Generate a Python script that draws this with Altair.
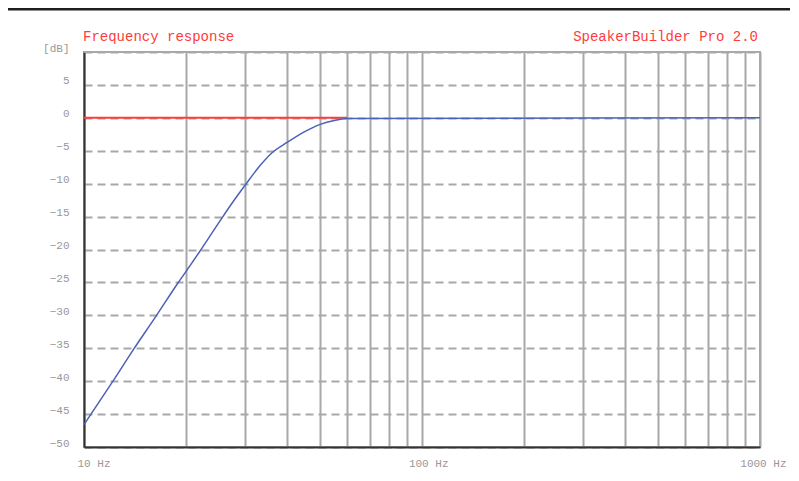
import altair as alt
import pandas as pd

# Blue: system response
blue_f = [10, 12.25, 14.0, 16.3, 18.9, 20, 22, 25, 28, 30, 33, 36, 40, 45, 50, 55, 60, 1000]
blue_db = [-46.6, -39.8, -35.2, -30.2, -25.2, -23.4, -20.3, -16.0, -12.3, -10.2, -7.4, -5.3, -3.7, -2.1, -1.0, -0.4, -0.1, 0]

# Red: target line
red_f = [10, 60]
red_db = [0, 0]

grid_x = [10, 20, 30, 40, 50, 60, 70, 80, 90, 100, 200, 300, 400, 500, 600, 700, 800, 900, 1000]
grid_y = list(range(-50, 11, 5))

title_left = "Frequency response"
title_right = "SpeakerBuilder Pro 2.0"

FONT = "Liberation Mono"
GRAY = "#a8a8a8"
LABEL = "#989898"
RED = "#ff3b3b"
BLUE = "#4a62b8"

blue = pd.DataFrame({"f": blue_f, "db": blue_db})
red = pd.DataFrame({"f": red_f, "db": red_db})

x_scale = alt.Scale(type="log", domain=[10, 1000], nice=False)
y_scale = alt.Scale(domain=[-50, 10], nice=False)

x_axis = alt.Axis(
    values=grid_x, grid=True, gridColor=GRAY, gridWidth=2, ticks=False,
    domainColor="#333333", domainWidth=2, title=None,
    labelExpr="(datum.value==10||datum.value==100||datum.value==1000) ? datum.value + ' Hz' : ''",
    labelAlign="right", labelOffset=26, labelPadding=10, labelBaseline="top",
    labelFlush=False, labelOverlap=False, labelBound=False,
    labelFont=FONT, labelFontSize=11, labelColor=LABEL,
)
y_axis = alt.Axis(
    values=grid_y, grid=True, gridColor=GRAY, gridWidth=2, gridDash=[8, 5], ticks=False,
    domainColor="#333333", domainWidth=2, title=None,
    labelExpr="datum.value==10 ? '[dB]' : datum.label",
    labelPadding=15, labelOffset=-4, labelFlush=False, labelOverlap=False,
    labelFont=FONT, labelFontSize=11, labelColor=LABEL,
)

red_line = alt.Chart(red).mark_line(color=RED, strokeWidth=2).encode(
    x=alt.X("f:Q", scale=x_scale, axis=x_axis),
    y=alt.Y("db:Q", scale=y_scale, axis=y_axis),
)
blue_line = alt.Chart(blue).mark_line(color=BLUE, strokeWidth=1.5, interpolate="monotone").encode(
    x=alt.X("f:Q", scale=x_scale, axis=x_axis),
    y=alt.Y("db:Q", scale=y_scale, axis=y_axis),
)

top_border = alt.Chart(pd.DataFrame({"a": [0]})).mark_rule(color=GRAY, strokeWidth=2).encode(
    x=alt.value(0), x2=alt.value(676), y=alt.value(0)
)
frame_top = alt.Chart(pd.DataFrame({"a": [0]})).mark_rule(color="#1e1e1e", strokeWidth=3).encode(
    x=alt.value(-80), x2=alt.value(730), y=alt.value(-43)
)

t_left = alt.Chart(pd.DataFrame({"t": [title_left]})).mark_text(
    align="left", baseline="middle", font=FONT, fontSize=14, color=RED
).encode(x=alt.value(-1), y=alt.value(-15), text="t:N")
t_right = alt.Chart(pd.DataFrame({"t": [title_right]})).mark_text(
    align="right", baseline="middle", font=FONT, fontSize=14, color=RED
).encode(x=alt.value(674), y=alt.value(-15), text="t:N")

chart = alt.layer(red_line, blue_line, top_border, frame_top, t_left, t_right).properties(
    width=676, height=395,
    padding={"left": 76, "top": 44, "right": 30, "bottom": 26},
    autosize=alt.AutoSizeParams(type="none"),
    background="white",
).configure_view(stroke=GRAY, strokeWidth=2)

chart.save("out.html", embed_options={"renderer": "svg", "actions": False})
